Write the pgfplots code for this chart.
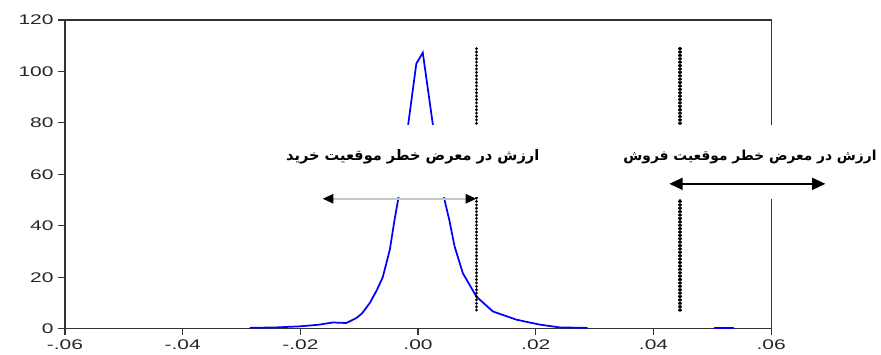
\documentclass[border=0pt]{standalone}
\usepackage{fontspec}
\setmainfont{Liberation Sans}[FakeStretch=1.5]
\newfontfamily\arabicfont[Script=Arabic]{DejaVu Sans}
\TeXXeTstate=1
\usepackage{pgfplots}
\pgfplotsset{compat=1.18}
\usetikzlibrary{arrows.meta}
\begin{document}
\begin{tikzpicture}
\path (-48.75pt,-15pt) rectangle (612pt,246.75pt);
\begin{axis}[
  at={(0,0)}, anchor=south west,
  scale only axis, width=530.25pt, height=231.75pt,
  xmin=-0.06, xmax=0.06, ymin=0, ymax=120,
  xtick={-0.06,-0.04,-0.02,0,0.02,0.04,0.06},
  xticklabels={-.06,-.04,-.02,.00,.02,.04,.06},
  ytick={0,20,40,60,80,100,120},
  scaled x ticks=false,
  tick pos=left, tick align=outside,
  major tick length=5pt,
  axis line style={black!80, line width=0.9pt},
  tick style={black!80, line width=0.9pt},
  /pgf/number format/assume math mode=true,
  tick label style={font=\fontsize{10.5}{12}\selectfont, text=black!85},
  clip=false,
]
\addplot[blue, line width=1.3pt] coordinates {
(-0.0286,0.3) (-0.024,0.5) (-0.0201,0.9) (-0.017,1.5) (-0.0145,2.4) (-0.0122,2.2)
(-0.0105,4.1) (-0.0095,6) (-0.0082,10) (-0.007,15) (-0.006,20) (-0.0048,30.7)
(-0.004,42.3) (-0.0034,50) (-0.0017,79) (-0.0003,103) (0.0008,107.3) (0.0025,79.5)
(0.0045,50) (0.0053,42.3) (0.0062,32) (0.0076,21.6) (0.0099,12.5) (0.0127,6.7)
(0.0167,3.5) (0.0206,1.6) (0.024,0.5) (0.0288,0.3)
};
\addplot[blue, line width=1.3pt] coordinates {(0.0503,0.3) (0.0537,0.3)};
\addplot[black, line width=2.3pt, line cap=round, dash pattern=on 0.05pt off 2.5pt] coordinates {(0.01,7.2) (0.01,109)};
\addplot[black, line width=2.3pt, line cap=round, dash pattern=on 0.05pt off 2.5pt] coordinates {(0.0445,7.2) (0.0445,109)};
\coordinate (b1a) at (axis cs:-0.0255,51.2);
\coordinate (b1b) at (axis cs:0.024,79.3);
\coordinate (b2a) at (axis cs:0.0435,50.6);
\coordinate (b2b) at (axis cs:0.0785,79.3);
\coordinate (a1a) at (axis cs:-0.0162,50.5);
\coordinate (a1b) at (axis cs:0.0099,50.5);
\coordinate (a2a) at (axis cs:0.0427,56.3);
\coordinate (a2b) at (axis cs:0.0692,56.3);
\coordinate (t1) at (axis cs:-0.0009,66.8);
\coordinate (t2) at (axis cs:0.0564,66.8);
\end{axis}
\fill[white] (b1a) rectangle (b1b);
\fill[white] (b2a) rectangle (b2b);
\draw[gray!45, line width=1.3pt, {Triangle[black,length=8pt,width=7pt]}-{Triangle[black,length=8pt,width=7pt]}] (a1a) -- (a1b);
\draw[black, line width=1.5pt, {Triangle[length=10pt,width=9pt]}-{Triangle[length=10pt,width=9pt]}] (a2a) -- (a2b);
\node at (t1) {\resizebox{190pt}{!}{\arabicfont\bfseries\beginR ارزش در معرض خطر موقعیت خرید\endR}};
\node at (t2) {\resizebox{190pt}{!}{\arabicfont\bfseries\beginR ارزش در معرض خطر موقعیت فروش\endR}};
\end{tikzpicture}
\end{document}
